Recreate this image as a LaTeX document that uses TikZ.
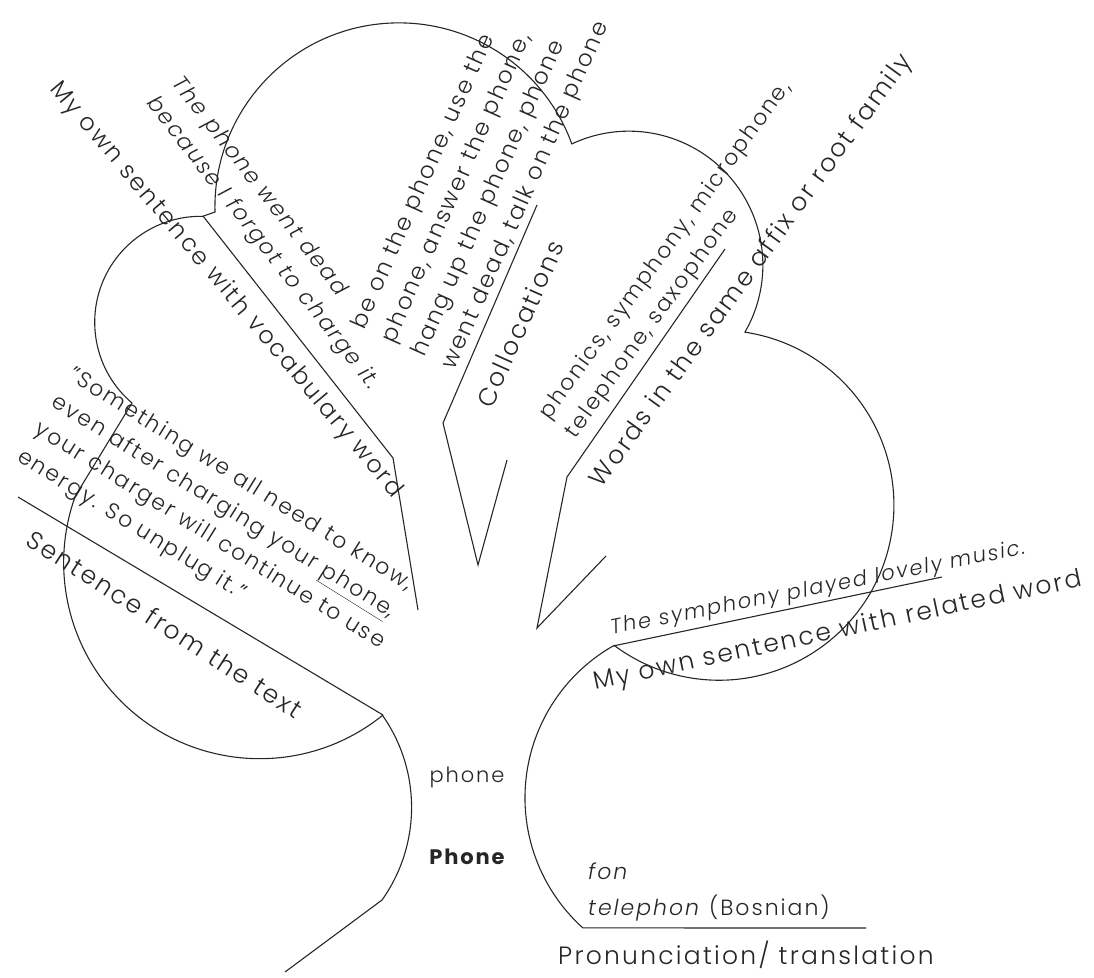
\documentclass[tikz,border=0pt]{standalone}
\usepackage{fontspec}
\IfFontExistsTF{Poppins Light}{%
  \IfFontExistsTF{Poppins Light Italic}{%
    \setmainfont{Poppins Light}[LetterSpace=9, ItalicFont={Poppins Light Italic}, BoldFont={Poppins Bold}]%
  }{%
    \setmainfont{Poppins Light}[LetterSpace=9, ItalicFont={Poppins Italic}, BoldFont={Poppins Bold}]%
  }%
}{%
  \setmainfont{Poppins}[LetterSpace=9]%
}
\begin{document}
\begin{tikzpicture}[x=1pt,y=1pt]
\tikzset{
  ln/.style={line width=1.1pt, draw=black!85},
  head/.style={font=\fontsize{25}{30}\selectfont, text=black!85, inner sep=0pt},
  body/.style={font=\fontsize{22}{32}\selectfont, text=black!85, inner sep=0pt, align=left},
  bodyit/.style={font=\fontsize{22}{32}\selectfont\itshape, text=black!85, inner sep=0pt, align=left},
  small/.style={font=\fontsize{21}{24}\selectfont, text=black!85, inner sep=0pt},
}
\useasboundingbox (0,0) rectangle (1094,-977);
% junctions
\coordinate (J1a) at (215,-212);
\coordinate (J1b) at (203,-216);
\coordinate (J2) at (572,-144);
\coordinate (J3) at (745,-332);
\coordinate (J4) at (613,-646);
\coordinate (J5) at (583,-928);
\coordinate (J6) at (383,-715);
\coordinate (J7) at (382,-900);
\coordinate (J8) at (76,-496);
\coordinate (J9) at (132,-403);
\coordinate (B0) at (285,-972);
\coordinate (S0) at (18,-497);
\coordinate (V1) at (393,-458);
\coordinate (V2) at (418,-610);
\coordinate (C0) at (537,-205);
\coordinate (C1) at (443,-423);
\coordinate (C2) at (478,-565);
\coordinate (C3) at (507,-460);
\coordinate (W0) at (725,-249);
\coordinate (W1) at (567,-477);
\coordinate (W2) at (537,-628);
\coordinate (W3) at (606,-556);
\coordinate (R1) at (942,-577);
\coordinate (P1) at (866,-928);
% outline
\draw[ln] (B0) -- (J7) arc[start angle=-35.4, end angle=35.1, radius=160];
\draw[ln] (J6) arc[start angle=-51, end angle=-200, radius=196] -- (J9)
  arc[start angle=229.6, end angle=88.9, radius=106] -- (J1a)
  arc[start angle=181.6, end angle=20, radius=184]
  arc[start angle=115.2, end angle=-30, radius=134]
  arc[start angle=81.45, end angle=-127, radius=175];
\draw[ln] (J4) arc[start angle=119.8, end angle=228, radius=175] -- (P1);
% branch lines
\draw[ln] (J6) -- (S0);
\draw[ln] (J1b) -- (V1) -- (V2);
\draw[ln] (C0) -- (C1) -- (C2) -- (C3);
\draw[ln] (W0) -- (W1) -- (W2) -- (W3);
\draw[ln] (J4) -- (R1);
% texts
\node[head, font=\fontsize{24}{30}\selectfont, rotate=-50] (tVocab) at (226,-290) {My own sentence with vocabulary word};
\node[bodyit, rotate=-52] (tDead) at (275,-234) {The phone went dead\\because I forgot to charge it.};
\node[body, font=\fontsize{23}{33}\selectfont, rotate=66] (tColl) at (481,-176) {be on the phone, use the\\phone, answer the phone,\\hang up the phone, phone\\went dead, talk on the phone};
\node[head, rotate=66] (tCollH) at (520,-324) {Collocations};
\node[body, rotate=54] (tFam) at (679,-260) {phonics, symphony, microphone,\\telephone, saxophone};
\node[head, rotate=54] (tFamH) at (752,-271) {Words in the same affix or root family};
\node[body, rotate=-32] (tQuote) at (218,-523) {"Something we all need to know,\\even after charging your \underline{phone},\\your charger will continue to use\\energy. So unplug it."};
\node[head, rotate=-33] (tSent) at (165,-624) {Sentence from the text};
\node[bodyit, font=\fontsize{21}{30}\selectfont\itshape, rotate=11] (tSym) at (818,-589) {The symphony played lovely music.};
\node[head, rotate=12] (tRel) at (838,-632) {My own sentence with related word};
\node[small] (tphone) at (467,-777) {phone};
\node[small, font=\fontsize{21}{24}\selectfont\bfseries] (tPhone) at (467,-857) {Phone};
\node[small, font=\fontsize{22}{24}\selectfont, anchor=base west] (tfon) at (588,-879) {\itshape fon};
\node[small, font=\fontsize{22}{24}\selectfont, anchor=base west] (ttel) at (588,-915) {\textit{telephon} (Bosnian)};
\node[head, anchor=base west] (tPron) at (558,-964) {Pronunciation/ translation};
\end{tikzpicture}
\end{document}
